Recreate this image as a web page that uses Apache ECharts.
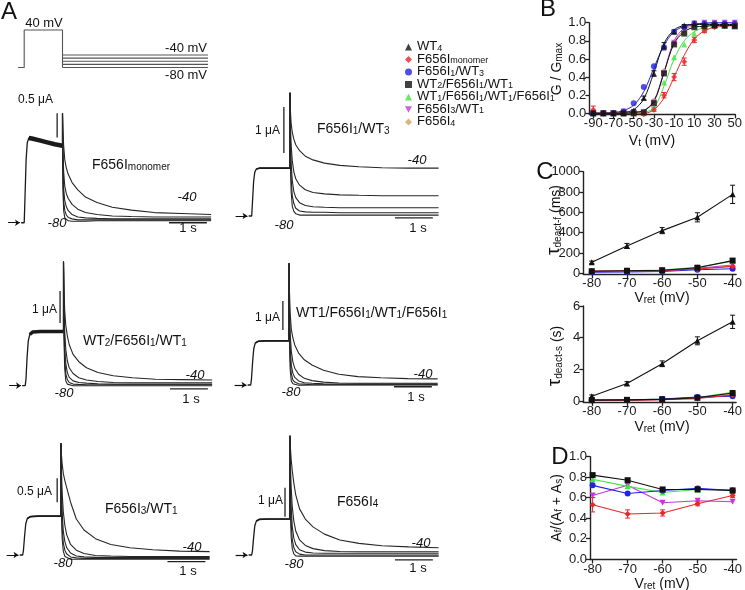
<!DOCTYPE html>
<html><head><meta charset="utf-8">
<script src="https://cdn.jsdelivr.net/npm/echarts@6/dist/echarts.min.js"></script>
<style>html,body{margin:0;padding:0;background:#fff}#c{width:745px;height:590px}</style>
</head><body><div id="c"></div>
<script>
// ---------------- DATA ----------------
const groupNames = ['WT4','F656Imonomer','F656I1/WT3','WT2/F656I1/WT1','WT1/F656I1/WT1/F656I1','F656I3/WT1','F656I4'];
const groupRich = ['{n|WT}{s|4}','{n|F656I}{s|monomer}','{n|F656I}{s|1}{n|/WT}{s|3}','{n|WT}{s|2}{n|/F656I}{s|1}{n|/WT}{s|1}','{n|WT}{s|1}{n|/F656I}{s|1}{n|/WT}{s|1}{n|/F656I}{s|1}','{n|F656I}{s|3}{n|/WT}{s|1}','{n|F656I}{s|4}'];

// Panel B: G/Gmax vs Vt
const bVoltages = [-90,-80,-70,-60,-50,-40,-30,-20,-10,0,10,20,30,40,50];
const bPoints = [
  [0,0,0,0,0.03,0.17,0.44,0.74,0.90,0.97,0.99,0.98,0.98,0.97,0.97],
  [0.04,0,0,0,0,-0.01,0.04,0.20,0.40,0.57,0.81,0.91,0.95,0.96,0.97],
  [0,0,0,0.02,0.11,0.29,0.52,0.73,0.90,0.95,0.99,0.99,0.99,0.99,0.99],
  [0,0,0,0,0,0.01,0.11,0.44,0.76,0.88,0.95,0.96,0.97,0.97,0.96],
  [0,0,0,0,0,0,0.05,0.34,0.62,0.76,0.88,0.93,0.97,0.97,0.97],
  [0,0,0,0.02,0,0.01,0.12,0.44,0.78,0.92,0.99,1.0,1.0,1.0,1.0],
  [0,0,0,0,0,0.02,0.14,0.47,0.77,0.88,0.95,0.98,1.0,1.0,1.0]
];
const bFits = [
  [0,0,0,0.01,0.04,0.16,0.45,0.77,0.92,0.97,0.98,0.98,0.98,0.98,0.98],
  [0,0,0,0,0,0,0.04,0.17,0.40,0.64,0.82,0.91,0.95,0.96,0.97],
  [0,0,0.01,0.03,0.09,0.24,0.50,0.75,0.90,0.96,0.985,0.995,1,1,1],
  [0,0,0,0,0.01,0.03,0.13,0.45,0.77,0.90,0.95,0.96,0.97,0.97,0.97],
  [0,0,0,0,0,0.01,0.06,0.30,0.60,0.80,0.90,0.95,0.97,0.97,0.97],
  [0,0,0,0,0.01,0.03,0.13,0.45,0.80,0.94,0.98,0.995,1,1,1],
  [0,0,0,0,0.01,0.03,0.14,0.46,0.78,0.92,0.97,0.99,1,1,1]
];
const bErrors = [
  [0,0,0,0,0.01,0.02,0.03,0.04,0.02,0.01,0,0,0,0,0],
  [0.04,0.01,0,0,0,0.01,0.02,0.03,0.04,0.04,0.03,0.02,0.01,0.01,0.01],
  [0,0,0,0,0,0,0,0,0,0,0,0,0,0,0],
  [0,0,0,0,0,0,0,0,0,0,0,0,0,0,0],
  [0,0,0,0,0,0,0,0,0,0,0,0,0,0,0],
  [0,0,0,0,0,0,0,0,0,0,0,0,0,0,0],
  [0,0,0,0,0,0,0,0,0,0,0,0,0,0,0]
];

// Panel C/D: Vret
const vret = [-80,-70,-60,-50,-40];
const tauFast = [
  [108,269,420,551,777],
  [22,25,28,42,68],
  [10,12,18,35,45],
  [20,25,30,55,125],
  [20,24,32,60,120],
  [15,20,25,50,82],
  [20,22,28,45,70]
];
const tauFastErr = [[12,25,30,45,90],[4,4,4,5,8],[0,0,0,0,0],[0,0,0,0,0],[0,0,0,0,0],[0,0,0,0,0],[0,0,0,0,0]];
const tauSlow = [
  [0.30,1.10,2.35,3.80,5.00],
  [0.04,0.05,0.08,0.15,0.38],
  [0.05,0.06,0.12,0.25,0.30],
  [0.05,0.07,0.10,0.20,0.50],
  [0.06,0.07,0.12,0.22,0.55],
  [0.05,0.06,0.10,0.20,0.35],
  [0.05,0.06,0.10,0.20,0.45]
];
const tauSlowErr = [[0.08,0.12,0.18,0.25,0.42],[0,0,0,0,0],[0,0,0,0,0],[0,0,0,0,0],[0,0,0,0,0],[0,0,0,0,0],[0,0,0,0,0]];
const ampFrac = [
  null,
  [0.53,0.44,0.45,0.54,0.62],
  [0.72,0.64,0.67,0.69,0.67],
  [0.82,0.77,0.68,0.68,0.67],
  [0.78,0.71,0.65,0.68,0.68],
  [0.62,0.72,0.55,0.57,0.56],
  null
];
const ampFracErr = [null,[0.07,0.04,0.03,0.02,0.02],[0,0,0,0,0],[0,0,0,0,0],[0,0,0,0,0],[0.02,0,0,0,0],null];

// Panel A: voltage protocol
const protoT = [-0.16, 0, 0, 1, 1];
const protoV = [-80, -80, 40, 40, -80];
const tailVoltages = [-40,-50,-60,-70,-80];
const protoTailEnd = 4.8;

// Panel A: current traces (uA), time (s)
const actT = [-0.08,0,0.02,0.05,0.08,0.12,0.2,0.4,0.6,0.8,1.0];
const tailT = [1.0,1.01,1.03,1.06,1.1,1.15,1.25,1.4,1.6,1.9,2.3,2.8,3.4,4.1,4.88];
const traceNames = ['F656Imonomer','F656I1/WT3','WT2/F656I1/WT1','WT1/F656I1/WT1/F656I1','F656I3/WT1','F656I4'];
const traceAct = [
  [0,0,0.5,1.3,1.65,1.75,1.74,1.70,1.66,1.62,1.59],
  [0,0,0.3,0.75,0.95,1.02,1.04,1.04,1.04,1.04,1.04],
  [0,0,0.2,0.9,1.4,1.6,1.68,1.69,1.69,1.69,1.69],
  [0,0,0.2,0.8,1.25,1.45,1.51,1.52,1.52,1.52,1.52],
  [0,0,0.1,0.4,0.65,0.76,0.80,0.81,0.81,0.81,0.81],
  [0,0,0.15,0.6,1.0,1.17,1.23,1.24,1.24,1.24,1.24]
];
const traceTails = [
  [ // F656I monomer: -40,-50,-60,-70,-80
    [2.26,1.9,1.6,1.3,1.13,1.0,0.83,0.68,0.53,0.42,0.32,0.26,0.21,0.19,0.17],
    [2.26,1.6,1.05,0.75,0.6,0.5,0.38,0.28,0.21,0.17,0.14,0.13,0.12,0.12,0.12],
    [2.26,1.3,0.7,0.45,0.33,0.25,0.17,0.12,0.1,0.09,0.08,0.08,0.08,0.08,0.08],
    [2.26,1.0,0.45,0.25,0.16,0.11,0.08,0.06,0.06,0.06,0.06,0.06,0.06,0.06,0.06],
    [2.26,0.7,0.25,0.1,0.06,0.04,0.03,0.03,0.03,0.04,0.04,0.04,0.04,0.04,0.04]
  ],
  [ // F656I1/WT3
    [2.68,2.3,2.01,1.82,1.67,1.55,1.42,1.3,1.22,1.15,1.1,1.07,1.05,1.04,1.04],
    [2.68,2.01,1.53,1.2,0.96,0.81,0.67,0.57,0.51,0.48,0.46,0.45,0.44,0.44,0.44],
    [2.68,1.72,1.15,0.77,0.53,0.4,0.29,0.23,0.2,0.19,0.18,0.18,0.18,0.18,0.18],
    [2.68,1.44,0.81,0.43,0.27,0.17,0.11,0.09,0.08,0.08,0.07,0.07,0.07,0.07,0.07],
    [2.68,1.15,0.53,0.21,0.1,0.05,0.02,0.02,0.02,0.02,0.02,0.02,0.02,0.02,0.02]
  ],
  [ // WT2/F656I1/WT1
    [3.88,3.13,2.38,1.88,1.56,1.28,0.98,0.75,0.56,0.41,0.31,0.25,0.2,0.19,0.18],
    [3.88,2.75,1.75,1.13,0.78,0.56,0.38,0.25,0.18,0.13,0.1,0.09,0.09,0.09,0.09],
    [3.88,2.38,1.25,0.69,0.41,0.26,0.15,0.1,0.08,0.06,0.05,0.05,0.05,0.05,0.05],
    [3.88,2.0,0.88,0.38,0.19,0.1,0.05,0.04,0.03,0.03,0.03,0.03,0.03,0.03,0.03],
    [3.88,1.63,0.56,0.15,0.05,0.01,0,0,0,0,0,0,0,0,0]
  ],
  [ // WT1/F656I1/WT1/F656I1
    [4.2,3.31,2.48,1.93,1.63,1.38,1.1,0.87,0.69,0.51,0.37,0.29,0.25,0.22,0.21],
    [4.2,2.9,1.79,1.17,0.8,0.58,0.37,0.23,0.15,0.1,0.07,0.06,0.06,0.06,0.06],
    [4.2,2.48,1.31,0.69,0.41,0.26,0.14,0.08,0.06,0.04,0.03,0.03,0.03,0.03,0.03],
    [4.2,2.07,0.9,0.39,0.18,0.1,0.04,0.03,0.01,0.01,0.01,0.01,0.01,0.01,0.01],
    [4.2,1.65,0.55,0.14,0.04,0,-0.01,-0.01,0,0,0,0,0,0,0]
  ],
  [ // F656I3/WT1
    [2.33,2.1,1.9,1.7,1.55,1.4,1.1,0.75,0.52,0.34,0.22,0.15,0.11,0.08,0.07],
    [2.33,1.8,1.3,0.9,0.62,0.42,0.22,0.1,0.03,-0.01,-0.02,-0.03,-0.03,-0.03,-0.03],
    [2.33,1.5,0.9,0.5,0.28,0.15,0.04,-0.02,-0.04,-0.05,-0.05,-0.05,-0.05,-0.05,-0.05],
    [2.33,1.2,0.6,0.25,0.1,0.02,-0.04,-0.06,-0.07,-0.07,-0.07,-0.07,-0.07,-0.07,-0.07],
    [2.33,0.9,0.35,0.08,-0.03,-0.07,-0.09,-0.09,-0.09,-0.09,-0.09,-0.09,-0.09,-0.09,-0.09]
  ],
  [ // F656I4
    [4.11,3.72,3.31,2.9,2.48,2.07,1.59,1.24,0.97,0.72,0.52,0.4,0.32,0.28,0.25],
    [4.11,3.17,2.34,1.65,1.17,0.83,0.52,0.33,0.22,0.15,0.12,0.11,0.11,0.11,0.11],
    [4.11,2.62,1.65,0.97,0.58,0.36,0.18,0.1,0.07,0.06,0.06,0.06,0.06,0.06,0.06],
    [4.11,2.07,1.1,0.52,0.25,0.11,0.03,0,0,0,0,0,0,0,0],
    [4.11,1.52,0.62,0.21,0.04,-0.03,-0.04,-0.04,-0.04,-0.04,-0.04,-0.04,-0.04,-0.04,-0.04]
  ]
];
// scale bars: vertical (current) and horizontal (1 s)
const scaleCurrentLabels = ['0.5 μA','1 μA','1 μA','1 μA','0.5 μA','1 μA'];
const scaleCurrentSize = [0.5,1,1,1,0.5,1];

// ---------------- LAYOUT / STYLE ----------------
const FF = 'Liberation Sans, Arial, Helvetica, sans-serif';
const colors = ['#111111','#e8262a','#2323e0','#111111','#3ee63e','#c437d8','#d6a062'];
const symbols = ['triangle','diamond','circle','rect','triangle','path://M0,0L10,0L5,9Z','diamond'];
const PPS = 38.3, XMIN = -0.45, XMAX = 4.9, YMIN = -0.6, YMAX = 4.6;
const panelLayout = [
  {x0:24.2, y0:217, ppu:58, lw:4.5, vbt:0.86, vb0:1.76, hbY:0, hb:[3.78,4.77]},
  {x0:251.7, y0:216, ppu:46, lw:1.6, vbt:0.84, vb0:1.37, hbY:-0.04, hb:[3.74,4.73]},
  {x0:25.2, y0:385.7, ppu:32, lw:3.5, vbt:0.91, vb0:1.96, hbY:-0.1, hb:[3.78,4.77]},
  {x0:250.7, y0:385, ppu:29, lw:1.6, vbt:0.84, vb0:1.9, hbY:-0.06, hb:[3.74,4.73]},
  {x0:22.7, y0:555, ppu:48, lw:1.6, vbt:0.9, vb0:1.1, hbY:-0.14, hb:[3.78,4.77]},
  {x0:251.7, y0:555, ppu:29, lw:1.6, vbt:0.87, vb0:1.32, hbY:-0.17, hb:[3.74,4.73]}
];

const grids = [], xAxes = [], yAxes = [], series = [];
const hidden = {show:false};
function hiddenAxis(gi, min, max){ return {gridIndex:gi, type:'value', min, max, show:false, splitLine:hidden}; }

// protocol grid (0)
const protoPPV = 37.5/120;
grids.push({left:24.2 + XMIN*PPS, width:(XMAX-XMIN)*PPS, top:30 - 10*protoPPV, height:140*protoPPV});
xAxes.push(hiddenAxis(0, XMIN, XMAX)); yAxes.push(hiddenAxis(0, -90, 50));
series.push({type:'line', xAxisIndex:0, yAxisIndex:0, symbol:'none', animation:false,
  data: protoT.map((t,i)=>[t, protoV[i]]), lineStyle:{color:'#555', width:1.1}});
tailVoltages.forEach(v => series.push({type:'line', xAxisIndex:0, yAxisIndex:0, symbol:'none',
  data:[[1, v],[protoTailEnd, v]], lineStyle:{color:'#555', width:1.1}}));

// trace panels (1..6)
panelLayout.forEach((p, k) => {
  const gi = k + 1;
  grids.push({left:p.x0 + XMIN*PPS, width:(XMAX-XMIN)*PPS, top:p.y0 - YMAX*p.ppu, height:(YMAX-YMIN)*p.ppu});
  xAxes.push(hiddenAxis(gi, XMIN, XMAX)); yAxes.push(hiddenAxis(gi, YMIN, YMAX));
  const act = traceAct[k];
  series.push({type:'line', xAxisIndex:gi, yAxisIndex:gi, symbol:'none',
    data: actT.map((t,i)=>[t, act[i]]), lineStyle:{color:'#1a1a1a', width:1.3}});
  series.push({type:'line', xAxisIndex:gi, yAxisIndex:gi, symbol:'none',
    data: actT.slice(5).map((t,i)=>[t, act[i+5]]), lineStyle:{color:'#1a1a1a', width:p.lw}});
  traceTails[k].forEach(tail => {
    series.push({type:'line', xAxisIndex:gi, yAxisIndex:gi, symbol:'none',
      data: [[1.0, act[act.length-1]]].concat(tailT.map((t,i)=>[t, tail[i]])),
      lineStyle:{color:'#262626', width:1.1}});
  });
  // arrow
  series.push({type:'lines', coordinateSystem:'cartesian2d', xAxisIndex:gi, yAxisIndex:gi,
    symbol:['none','arrow'], symbolSize:5, lineStyle:{color:'#111', width:1.2, opacity:1},
    data:[{coords:[[-0.42,0],[-0.11,0]]}]});
  // scale bars
  series.push({type:'line', xAxisIndex:gi, yAxisIndex:gi, symbol:'none',
    data:[[p.vbt, p.vb0],[p.vbt, p.vb0 + scaleCurrentSize[k]]], lineStyle:{color:'#222', width:1.3}});
  series.push({type:'line', xAxisIndex:gi, yAxisIndex:gi, symbol:'none',
    data:[[p.hb[0], p.hbY],[p.hb[1], p.hbY]], lineStyle:{color:'#222', width:1.3}});
});

// right panels
function xAx(gi, min, max, ticks){
  return {gridIndex:gi, type:'value', min, max,
    axisLine:{show:true, onZero:false, lineStyle:{color:'#222', width:1.4}},
    axisTick:{show:true, customValues:ticks, length:4, lineStyle:{color:'#222', width:1.3}},
    axisLabel:{customValues:ticks, fontSize:13, color:'#1a1a1a', margin:3, fontFamily:FF},
    splitLine:hidden};
}
function yAx(gi, min, max, ticks, dec){
  return {gridIndex:gi, type:'value', min, max,
    axisLine:{show:true, onZero:false, lineStyle:{color:'#222', width:1.4}},
    axisTick:{show:true, customValues:ticks, length:4, lineStyle:{color:'#222', width:1.3}},
    axisLabel:{customValues:ticks, fontSize:13, color:'#1a1a1a', margin:3, fontFamily:FF,
      formatter: v => dec ? v.toFixed(dec) : String(v)},
    splitLine:hidden};
}
// B (7)
grids.push({left:589.3, top:22.7, width:148, height:91.6});
xAxes.push(xAx(7, -93.9, 50.5, [-90,-70,-50,-30,-10,10,30,50]));
yAxes.push(yAx(7, -0.011, 1.0, [0,0.2,0.4,0.6,0.8,1.0], 1));
// C top (8)
grids.push({left:583.3, top:171.7, width:153.4, height:102.6});
xAxes.push(xAx(8, -82.4, -39, vret));
yAxes.push(yAx(8, -10, 1000, [0,200,400,600,800,1000], 0));
// C bottom (9)
grids.push({left:583.3, top:306, width:153.4, height:95.9});
xAxes.push(xAx(9, -82.4, -39, vret));
yAxes.push(yAx(9, -0.06, 6, [0,2,4,6], 0));
// D (10)
grids.push({left:590, top:456.7, width:151.4, height:102.8});
xAxes.push(xAx(10, -80.75, -38.87, vret));
yAxes.push(yAx(10, -0.005, 1.0, [0,0.2,0.4,0.6,0.8,1.0], 1));

function errRender(params, api){
  const x = api.value(0), lo = api.value(1), hi = api.value(2);
  const p1 = api.coord([x, hi]), p2 = api.coord([x, lo]);
  const w = 2.5, st = {stroke: api.visual('color'), lineWidth: 1};
  return {type:'group', children:[
    {type:'line', shape:{x1:p1[0],y1:p1[1],x2:p2[0],y2:p2[1]}, style:st},
    {type:'line', shape:{x1:p1[0]-w,y1:p1[1],x2:p1[0]+w,y2:p1[1]}, style:st},
    {type:'line', shape:{x1:p2[0]-w,y1:p2[1],x2:p2[0]+w,y2:p2[1]}, style:st}]};
}
function errSeries(name, gi, xs, ys, es, color){
  const d = [];
  xs.forEach((x,i)=>{ if (es[i] > 0) d.push([x, ys[i]-es[i], ys[i]+es[i]]); });
  return {type:'custom', name, xAxisIndex:gi, yAxisIndex:gi, renderItem:errRender,
    itemStyle:{color}, data:d, z:4, encode:{x:0, y:[1,2]}};
}

// draw order: put black triangle WT4 and black squares on top
const order = [6,5,4,2,1,3,0];
order.forEach(i => {
  const name = groupNames[i], c = colors[i], sym = symbols[i];
  series.push({type:'scatter', name, xAxisIndex:7, yAxisIndex:7, symbol:sym, symbolSize:6,
    itemStyle:{color:c}, z:5, data:bVoltages.map((v,j)=>[v, bPoints[i][j]])});
  series.push({type:'line', name, xAxisIndex:7, yAxisIndex:7, symbol:'none', smooth:0.35,
    lineStyle:{color:c, width:1}, z:3, data:bVoltages.map((v,j)=>[v, bFits[i][j]])});
  series.push(errSeries(name, 7, bVoltages, bPoints[i], bErrors[i], c));
  series.push({type:'line', name, xAxisIndex:8, yAxisIndex:8, symbol:sym, symbolSize:6,
    itemStyle:{color:c}, lineStyle:{color:c, width:1.1}, z:5, data:vret.map((v,j)=>[v, tauFast[i][j]])});
  series.push(errSeries(name, 8, vret, tauFast[i], tauFastErr[i], c));
  series.push({type:'line', name, xAxisIndex:9, yAxisIndex:9, symbol:sym, symbolSize:6,
    itemStyle:{color:c}, lineStyle:{color:c, width:1.1}, z:5, data:vret.map((v,j)=>[v, tauSlow[i][j]])});
  series.push(errSeries(name, 9, vret, tauSlow[i], tauSlowErr[i], c));
  if (ampFrac[i]) {
    series.push({type:'line', name, xAxisIndex:10, yAxisIndex:10, symbol:sym, symbolSize:6,
      itemStyle:{color:c}, lineStyle:{color:c, width:1.1}, z:5, data:vret.map((v,j)=>[v, ampFrac[i][j]])});
    series.push(errSeries(name, 10, vret, ampFrac[i], ampFracErr[i], c));
  }
});

// ---------------- TEXT ----------------
function rich(main, sub, extra){
  const r = {
    n:{fontSize:main, lineHeight:main, verticalAlign:'bottom', fontFamily:FF, fill:'#111', color:'#111'},
    s:{fontSize:sub, lineHeight:Math.round(sub*0.6), verticalAlign:'bottom', fontFamily:FF, fill:'#111', color:'#111'}
  };
  return Object.assign(r, extra||{});
}
const G = [];
function txt(x, y, text, o){
  o = o || {};
  const el = {type:'text', x, y, z:100, silent:true,
    style:{text, fontSize:o.size||13, fontFamily:FF, fontStyle:o.italic?'italic':'normal',
      fill:o.color||'#111', align:o.align||'center', verticalAlign:'middle'}};
  if (o.rich) el.style.rich = o.rich;
  if (o.rot) el.rotation = o.rot;
  G.push(el);
}
txt(9, 12, 'A', {size:24}); txt(548, 9, 'B', {size:24}); txt(545, 172, 'C', {size:24}); txt(560, 457, 'D', {size:24});
txt(44, 23, '40 mV'); txt(207, 48, '-40 mV', {align:'right'}); txt(207, 75, '-80 mV', {align:'right'});
const titleRich = rich(14, 10);
const traceTitles = ['{n|F656I}{s|monomer}','{n|F656I}{s|1}{n|/WT}{s|3}','{n|WT}{s|2}{n|/F656I}{s|1}{n|/WT}{s|1}','{n|WT1/F656I}{s|1}{n|/WT}{s|1}{n|/F656I}{s|1}','{n|F656I}{s|3}{n|/WT}{s|1}','{n|F656I}{s|4}'];
const titlePos = [[92,165],[317,129],[83,341],[296,313],[105,509],[337,502]];
const scaleLabelPos = [[53,100],[280,131],[57,310],[280,318],[52,492],[283,501]];
const m40Pos = [[187,197],[417,160],[195,375],[423,374],[192,547],[421,543]];
const m80Pos = [[57,223],[284,225],[64,393],[291,392],[63,563],[294,564]];
const secPos = [[188,228],[418,228],[191,399],[416,397],[188,571],[418,568]];
for (let k=0;k<6;k++){
  txt(titlePos[k][0], titlePos[k][1], traceTitles[k], {align:'left', rich:titleRich});
  txt(scaleLabelPos[k][0], scaleLabelPos[k][1], scaleCurrentLabels[k], {align:'right', size:12});
  txt(m40Pos[k][0], m40Pos[k][1], '-40', {italic:true});
  txt(m80Pos[k][0], m80Pos[k][1], '-80', {italic:true});
  txt(secPos[k][0], secPos[k][1], '1 s');
}
const axRich = rich(14, 10, {t:{fontSize:19, lineHeight:16, verticalAlign:'bottom', fontFamily:FF, fill:'#111'}});
txt(652, 141, '{n|V}{s|t}{n| (mV)}', {rich:axRich});
txt(557, 69, '{n|G / G}{s|max}', {rich:axRich, rot:Math.PI/2});
txt(662, 298, '{n|V}{s|ret}{n| (mV)}', {rich:axRich});
txt(555, 220, '{t|τ}{s|deact-f}{n| (ms)}', {rich:axRich, rot:Math.PI/2});
txt(662, 427, '{n|V}{s|ret}{n| (mV)}', {rich:axRich});
txt(556, 356, '{t|τ}{s|deact-s}{n| (s)}', {rich:axRich, rot:Math.PI/2});
txt(662, 584, '{n|V}{s|ret}{n| (mV)}', {rich:axRich});
txt(557, 508, '{n|A}{s|f}{n|/(A}{s|f}{n| + A}{s|s}{n|)}', {rich:axRich, rot:Math.PI/2});

const chart = echarts.init(document.getElementById('c'), null, {renderer:'canvas'});
chart.setOption({
  animation:false,
  backgroundColor:'#ffffff',
  grid:grids, xAxis:xAxes, yAxis:yAxes, series,
  legend:{
    orient:'vertical', left:400, top:35, itemWidth:7, itemHeight:7, itemGap:-0.5,
    selectedMode:false,
    data: groupNames.map((n,i)=>({name:n, icon:symbols[i], itemStyle:{color:colors[i]}})),
    formatter: name => groupRich[groupNames.indexOf(name)],
    textStyle:{fontSize:13, fontFamily:FF, color:'#111', rich:{
      n:{fontSize:13, lineHeight:12, verticalAlign:'bottom', fontFamily:FF, color:'#111'},
      s:{fontSize:9, lineHeight:6, verticalAlign:'bottom', fontFamily:FF, color:'#111'}}}
  },
  graphic:G
});
</script></body></html>
